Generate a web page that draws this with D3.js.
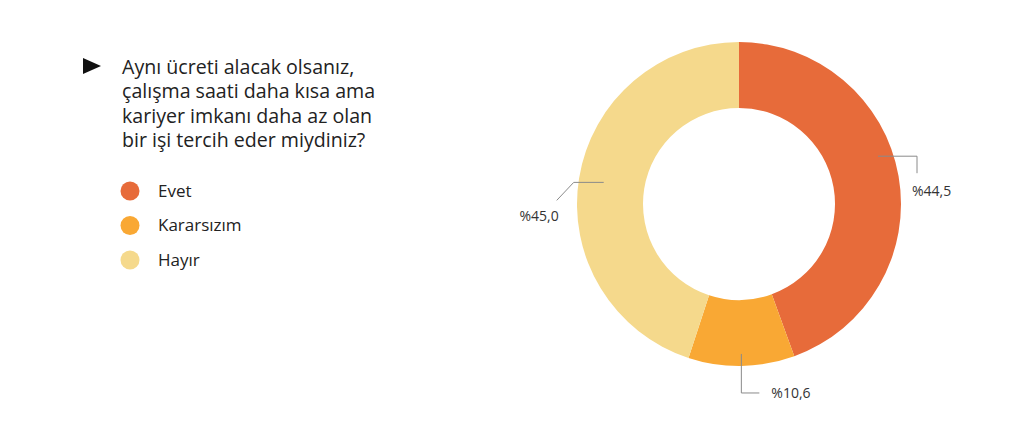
<!DOCTYPE html>
<html><head><meta charset="utf-8">
<script src="https://cdn.jsdelivr.net/npm/d3@7/dist/d3.min.js"></script>
<style>body{margin:0;background:#fff}svg{display:block}</style>
</head><body>
<svg id="c" width="1024" height="446"></svg>
<script>
const categories = ["Evet", "Kararsızım", "Hayır"];
const values = [44.5, 10.6, 45.0];
const valueLabels = ["%44,5", "%10,6", "%45,0"];
const colors = ["#E76B3A", "#F9A834", "#F5D98C"];
const titleLines = ["Aynı ücreti alacak olsanız,", "çalışma saati daha kısa ama", "kariyer imkanı daha az olan", "bir işi tercih eder miydiniz?"];

const font = "'Open Sans', sans-serif";
const svg = d3.select("#c");
const cx = 739, cy = 204, R = 162, r = 96;

// Title
svg.append("path").attr("d", "M83,58 L101,66 L83,74 Z").attr("fill", "#111");
svg.append("g").selectAll("text").data(titleLines).join("text")
  .attr("x", 122).attr("y", (d, i) => 74 + i * 24.4)
  .attr("font-family", font).attr("font-size", 19.6).attr("fill", "#222")
  .text(d => d);

// Legend
const lg = svg.append("g").selectAll("g").data(categories).join("g")
  .attr("transform", (d, i) => `translate(130,${191 + i * 34.5})`);
lg.append("circle").attr("r", 9.5).attr("fill", (d, i) => colors[i]);
lg.append("text").attr("x", 28).attr("dy", "0.35em")
  .attr("font-family", font).attr("font-size", 17).attr("fill", "#222").text(d => d);

// Donut
const pie = d3.pie().sort(null).value(d => d)(values);
const arc = d3.arc().innerRadius(r).outerRadius(R);
const g = svg.append("g").attr("transform", `translate(${cx},${cy})`);
g.selectAll("path").data(pie).join("path").attr("d", arc).attr("fill", (d, i) => colors[i]);

// Leader lines & labels (layout)
const angleAdjust = [-9 * Math.PI / 180, 0, 0];
const anchorR = [147, 150, 137];
const leader = [
  {path: [[39, 0], [39, 17]], text: [34, 35], anchor: "start"},
  {path: [[0, 39], [18, 39]], text: [30, 39], anchor: "start"},
  {path: [[-30, 0], [-47, 18]], text: [-45, 34], anchor: "end"}
];
pie.forEach((p, i) => {
  const a = (p.startAngle + p.endAngle) / 2 + angleAdjust[i];
  const ax = Math.sin(a) * anchorR[i], ay = -Math.cos(a) * anchorR[i];
  const L = leader[i];
  const pts = [[ax, ay]].concat(L.path.map(q => [ax + q[0], ay + q[1]]));
  g.append("path").attr("d", d3.line()(pts)).attr("fill", "none")
    .attr("stroke", "#8a8a8a").attr("stroke-width", 1);
  g.append("text").attr("x", ax + L.text[0]).attr("y", ay + L.text[1]).attr("dy", "0.35em")
    .attr("text-anchor", L.anchor).attr("font-family", font).attr("font-size", 14)
    .attr("fill", "#333").text(valueLabels[i]);
});
</script>
</body></html>
